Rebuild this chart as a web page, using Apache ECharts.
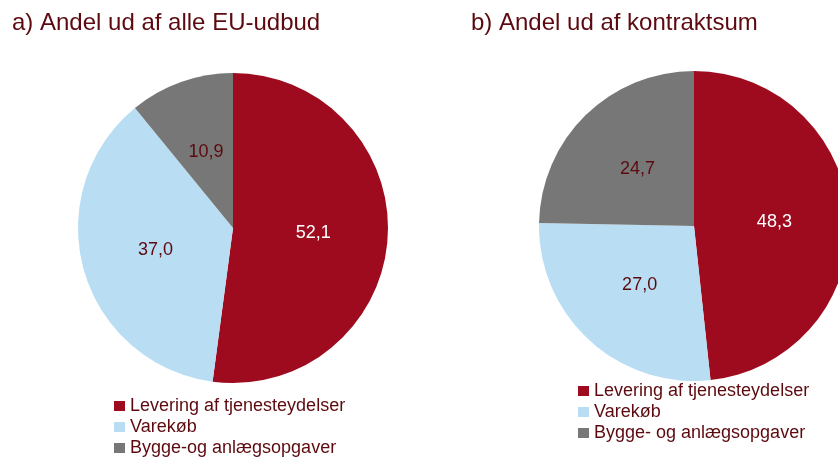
<!DOCTYPE html>
<html lang="da">
<head>
    <meta charset="UTF-8">
    <title>EU-udbud</title>
    <script src="https://cdn.jsdelivr.net/npm/echarts@6/dist/echarts.min.js"></script>
</head>
<body style="margin:0">
<div id="main" style="width: 838px;height:460px;"></div>
<script type="text/javascript">
    // data
    var namesA = ['Levering af tjenesteydelser', 'Varekøb', 'Bygge-og anlægsopgaver'];
    var valuesA = [52.1, 37.0, 10.9];
    var namesB = ['Levering af tjenesteydelser', 'Varekøb', 'Bygge- og anlægsopgaver'];
    var valuesB = [48.3, 27.0, 24.7];
    var colors = ['#9E0B1F', '#B9DDF3', '#777777'];
    var labelColors = ['#ffffff', '#5C0A0F', '#5C0A0F'];
    var textColor = '#5C0A0F';
    var font = 'Liberation Sans, Arial, sans-serif';

    function buildData(names, values) {
        var out = [];
        for (var i = 0; i < names.length; i++) {
            out.push({
                name: names[i],
                value: values[i],
                itemStyle: { color: colors[i] },
                label: { color: labelColors[i] }
            });
        }
        return out;
    }

    function pieSeries(names, values, center) {
        return {
            type: 'pie',
            radius: 155,
            center: center,
            startAngle: 90,
            clockwise: true,
            silent: true,
            animation: false,
            label: {
                show: true,
                position: 'inside',
                fontFamily: font,
                fontSize: 18,
                formatter: function (p) { return p.value.toFixed(1).replace('.', ','); }
            },
            labelLine: { show: false },
            itemStyle: { borderWidth: 0 },
            data: buildData(names, values)
        };
    }

    function legend(names, left, top) {
        return {
            data: names, orient: 'vertical', left: left, top: top, height: 80,
            itemWidth: 11, itemHeight: 10, itemGap: 3, icon: 'rect',
            textStyle: { color: textColor, fontFamily: font, fontSize: 18, lineHeight: 18 }
        };
    }

    var myChart = echarts.init(document.getElementById('main'));

    var option = {
        title: [
            { text: 'a) Andel ud af alle EU-udbud', left: 7, top: 6,
              textStyle: { color: textColor, fontFamily: font, fontSize: 24, fontWeight: 'normal' } },
            { text: 'b) Andel ud af kontraktsum', left: 466, top: 6,
              textStyle: { color: textColor, fontFamily: font, fontSize: 24, fontWeight: 'normal' } }
        ],
        legend: [
            legend(namesA, 109, 392),
            legend(namesB, 573, 377)
        ],
        series: [
            pieSeries(namesA, valuesA, [233, 228]),
            pieSeries(namesB, valuesB, [694, 226])
        ]
    };

    myChart.setOption(option);
</script>
</body>
</html>
